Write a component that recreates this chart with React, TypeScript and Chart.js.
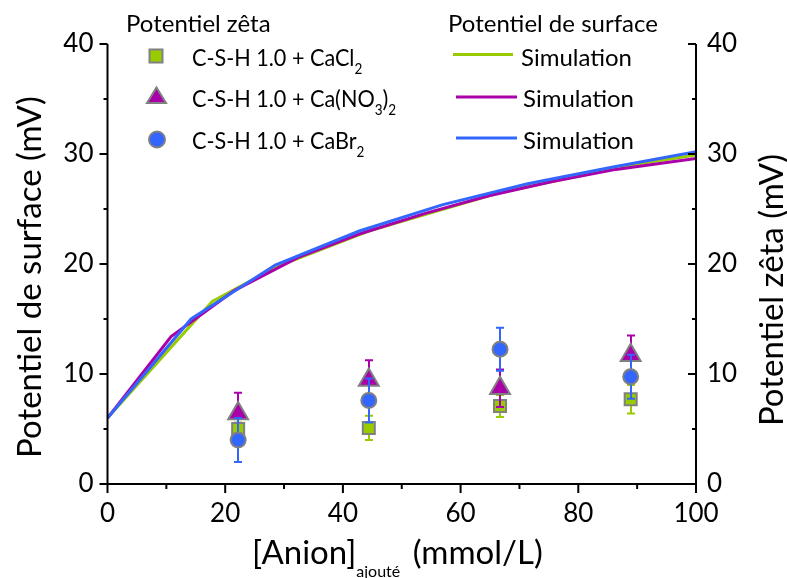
import React, { useEffect, useRef } from "react";
import { Chart, registerables } from "chart.js";
Chart.register(...registerables);

const FONT = "Lato";

// Simulated surface potential (mV) vs added anion (mmol/L)
const simClX = [0, 17.8, 29, 44.4, 66.7, 88.9, 100];
const simClY = [6.0, 16.6, 19.8, 23.0, 26.5, 29.0, 29.9];
const simNO3X = [0, 10.8, 21.6, 32.4, 43.2, 54, 64.8, 75.6, 86.4, 100];
const simNO3Y = [6.0, 13.4, 17.6, 20.6, 22.8, 24.6, 26.2, 27.5, 28.6, 29.6];
const simBrX = [0, 14.2, 28.5, 42.8, 57, 71.4, 85.7, 100];
const simBrY = [6.0, 15.0, 19.9, 23.0, 25.4, 27.3, 28.8, 30.2];

// Measured zeta potential (mV)
const zetaX = [22.2, 44.4, 66.7, 88.9];
const zetaCl = [5.0, 5.1, 7.1, 7.7];
const zetaClErr = [0.6, 1.1, 1.0, 1.3];
const zetaNO3 = [6.4, 9.45, 8.7, 11.7];
const zetaNO3Err = [1.9, 1.8, 1.7, 1.8];
const zetaBr = [4.0, 7.6, 12.25, 9.75];
const zetaBrErr = [2.0, 2.0, 1.95, 2.0];

const GREEN = "#99CC00";
const MAGENTA = "#AA00AA";
const BLUE = "#3366FF";
const GRAY = "#808080";

const pts = (xs: number[], ys: number[]) => xs.map((x, i) => ({ x, y: ys[i] }));

const errPlugin = {
  id: "errbars",
  beforeDatasetDraw(chart: any, args: any) {
    const ds = chart.data.datasets[args.index];
    if (!ds.errors) return;
    const ctx = chart.ctx;
    const xs = chart.scales.x;
    const ys = chart.scales.y;
    ctx.save();
    ctx.strokeStyle = ds.errColor;
    ctx.lineWidth = 2;
    ds.data.forEach((p: any, i: number) => {
      const e = ds.errors[i];
      const px = Math.round(xs.getPixelForValue(p.x));
      const t = ys.getPixelForValue(p.y + e);
      const b = ys.getPixelForValue(p.y - e);
      ctx.beginPath();
      ctx.moveTo(px, t);
      ctx.lineTo(px, b);
      ctx.moveTo(px - 4, t);
      ctx.lineTo(px + 4, t);
      ctx.moveTo(px - 4, b);
      ctx.lineTo(px + 4, b);
      ctx.stroke();
    });
    ctx.restore();
  },
};

const axesPlugin = {
  id: "axesDraw",
  afterDraw(chart: any) {
    const { ctx, chartArea: a, scales } = chart;
    const xs = scales.x;
    const ys = scales.y;
    ctx.save();
    ctx.strokeStyle = "#000";
    ctx.lineWidth = 2;
    ctx.lineJoin = "miter";
    ctx.beginPath();
    ctx.moveTo(a.left, a.top);
    ctx.lineTo(a.left, a.bottom);
    ctx.lineTo(a.right, a.bottom);
    ctx.lineTo(a.right, a.top);
    ctx.stroke();
    const xMaj = xs.ticks.map((t: any) => t.value);
    const yMaj = ys.ticks.map((t: any) => t.value);
    const mids = (v: number[]) => v.slice(1).map((x, i) => (x + v[i]) / 2);
    ctx.beginPath();
    xMaj.forEach((v: number) => {
      const p = xs.getPixelForValue(v);
      ctx.moveTo(p, a.bottom);
      ctx.lineTo(p, a.bottom + 9);
    });
    mids(xMaj).forEach((v: number) => {
      const p = xs.getPixelForValue(v);
      ctx.moveTo(p, a.bottom);
      ctx.lineTo(p, a.bottom + 5);
    });
    yMaj.forEach((v: number) => {
      const p = ys.getPixelForValue(v);
      ctx.moveTo(a.left, p);
      ctx.lineTo(a.left - 8, p);
      if (v > 0) {
        ctx.moveTo(a.right, p);
        ctx.lineTo(a.right - 8, p);
      }
    });
    mids(yMaj).forEach((v: number) => {
      const p = ys.getPixelForValue(v);
      ctx.moveTo(a.left, p);
      ctx.lineTo(a.left - 4, p);
      ctx.moveTo(a.right, p);
      ctx.lineTo(a.right - 4, p);
    });
    ctx.stroke();
    ctx.restore();
  },
};

function T(props: { x: number; cy: number; size: number; children: any; sx?: number }) {
  return (
    <div
      style={{
        position: "absolute",
        left: props.x,
        top: props.cy,
        transform: `translateY(-50%) scaleX(${props.sx ?? 1})`,
        transformOrigin: "left center",
        fontSize: props.size,
        lineHeight: 1,
        whiteSpace: "nowrap",
        fontFamily: FONT,
        color: "#000",
      }}
    >
      {props.children}
    </div>
  );
}

const Sub = (p: { children: any; size?: number; dy?: number; mr?: number }) => (
  <span style={{ fontSize: p.size ?? 15, position: "relative", top: p.dy ?? 8, marginRight: p.mr ?? 0 }}>{p.children}</span>
);

export default function App() {
  const ref = useRef<HTMLCanvasElement>(null);
  useEffect(() => {
    const tickFont = { family: FONT, size: 26 };
    const chart = new Chart(ref.current as HTMLCanvasElement, {
      type: "scatter",
      data: {
        datasets: [
          { label: "sim CaCl2", data: pts(simClX, simClY), showLine: true, borderColor: GREEN, borderWidth: 3, pointRadius: 0, order: 6 },
          { label: "sim Ca(NO3)2", data: pts(simNO3X, simNO3Y), showLine: true, borderColor: MAGENTA, borderWidth: 3, pointRadius: 0, order: 5 },
          { label: "sim CaBr2", data: pts(simBrX, simBrY), showLine: true, borderColor: BLUE, borderWidth: 3, pointRadius: 0, order: 4 },
          { label: "C-S-H 1.0 + CaCl2", data: pts(zetaX, zetaCl), pointStyle: "rect", pointRadius: 8.5, backgroundColor: GREEN, borderColor: GRAY, borderWidth: 2, order: 3, errors: zetaClErr, errColor: GREEN } as any,
          { label: "C-S-H 1.0 + Ca(NO3)2", data: pts(zetaX, zetaNO3), pointStyle: "triangle", pointRadius: 11.5, backgroundColor: MAGENTA, borderColor: GRAY, borderWidth: 2, order: 2, errors: zetaNO3Err, errColor: MAGENTA } as any,
          { label: "C-S-H 1.0 + CaBr2", data: pts(zetaX, zetaBr), pointStyle: "circle", pointRadius: 7.5, backgroundColor: BLUE, borderColor: GRAY, borderWidth: 2, order: 1, errors: zetaBrErr, errColor: BLUE } as any,
        ],
      },
      options: {
        animation: false,
        responsive: false,
        devicePixelRatio: 1,
        layout: { padding: { top: 44, left: 0, right: 0, bottom: 0 } },
        plugins: { legend: { display: false }, tooltip: { enabled: false } },
        scales: {
          x: {
            type: "linear", min: 0, max: 100, position: "bottom",
            ticks: { stepSize: 20, font: tickFont, color: "#000", padding: 14, maxRotation: 0 },
            grid: { display: false, drawTicks: false }, border: { display: false },
            afterFit: (s: any) => { s.height = 94; },
          },
          y: {
            type: "linear", min: 0, max: 40, position: "left",
            ticks: { stepSize: 10, font: tickFont, color: "#000", padding: 14 },
            grid: { display: false, drawTicks: false }, border: { display: false },
            afterFit: (s: any) => { s.width = 107.5; },
          },
          y2: {
            type: "linear", min: 0, max: 40, position: "right",
            ticks: { stepSize: 10, font: tickFont, color: "#000", padding: 11 },
            grid: { display: false, drawTicks: false }, border: { display: false },
            afterFit: (s: any) => { s.width = 91; },
          },
        },
      } as any,
      plugins: [errPlugin, axesPlugin],
    });
    return () => chart.destroy();
  }, []);

  const LF = 24;
  return (
    <div style={{ position: "absolute", left: 0, top: 0, width: 787, height: 578, background: "#fff", overflow: "hidden" }}>
      <canvas ref={ref} width={787} height={578} style={{ position: "absolute", left: 0, top: 0 }} />
      <svg width={787} height={578} style={{ position: "absolute", left: 0, top: 0, pointerEvents: "none" }}>
        <rect x={149.5} y={49.5} width={13} height={13} fill={GREEN} stroke={GRAY} strokeWidth={2} />
        <polygon points="156.5,87.5 166,103 147,103" fill={MAGENTA} stroke={GRAY} strokeWidth={2} />
        <circle cx={157} cy={139.5} r={8} fill={BLUE} stroke={GRAY} strokeWidth={2} />
        <line x1={453} y1={54.5} x2={513} y2={54.5} stroke={GREEN} strokeWidth={3} />
        <line x1={456} y1={97} x2={517} y2={97} stroke={MAGENTA} strokeWidth={3} />
        <line x1={456} y1={138} x2={517} y2={138} stroke={BLUE} strokeWidth={3} />
      </svg>
      <T x={126} cy={22.5} size={LF}>Potentiel zêta</T>
      <T x={448} cy={22.5} size={LF}>Potentiel de surface</T>
      <T x={192} cy={56.5} size={LF} sx={0.9}>C-S-H 1.0 + CaCl<Sub>2</Sub></T>
      <T x={192} cy={98} size={LF} sx={0.9}>C-S-H 1.0 + Ca(NO<Sub>3</Sub>)<Sub>2</Sub></T>
      <T x={192} cy={139.5} size={LF} sx={0.9}>C-S-H 1.0 + CaBr<Sub>2</Sub></T>
      <T x={521} cy={56.5} size={LF}>Simulation</T>
      <T x={523} cy={98} size={LF}>Simulation</T>
      <T x={523} cy={139.5} size={LF}>Simulation</T>
      <T x={252} cy={551} size={33}>[Anion]<Sub size={16} dy={13} mr={4}>ajouté</Sub> (mmol/L)</T>
      <div style={{ position: "absolute", left: 28, top: 277, transform: "translate(-50%,-50%) rotate(-90deg)", fontFamily: FONT, fontSize: 33, lineHeight: 1, whiteSpace: "nowrap" }}>Potentiel de surface (mV)</div>
      <div style={{ position: "absolute", left: 770, top: 290, transform: "translate(-50%,-50%) rotate(-90deg)", fontFamily: FONT, fontSize: 33, lineHeight: 1, whiteSpace: "nowrap" }}>Potentiel zêta (mV)</div>
    </div>
  );
}
